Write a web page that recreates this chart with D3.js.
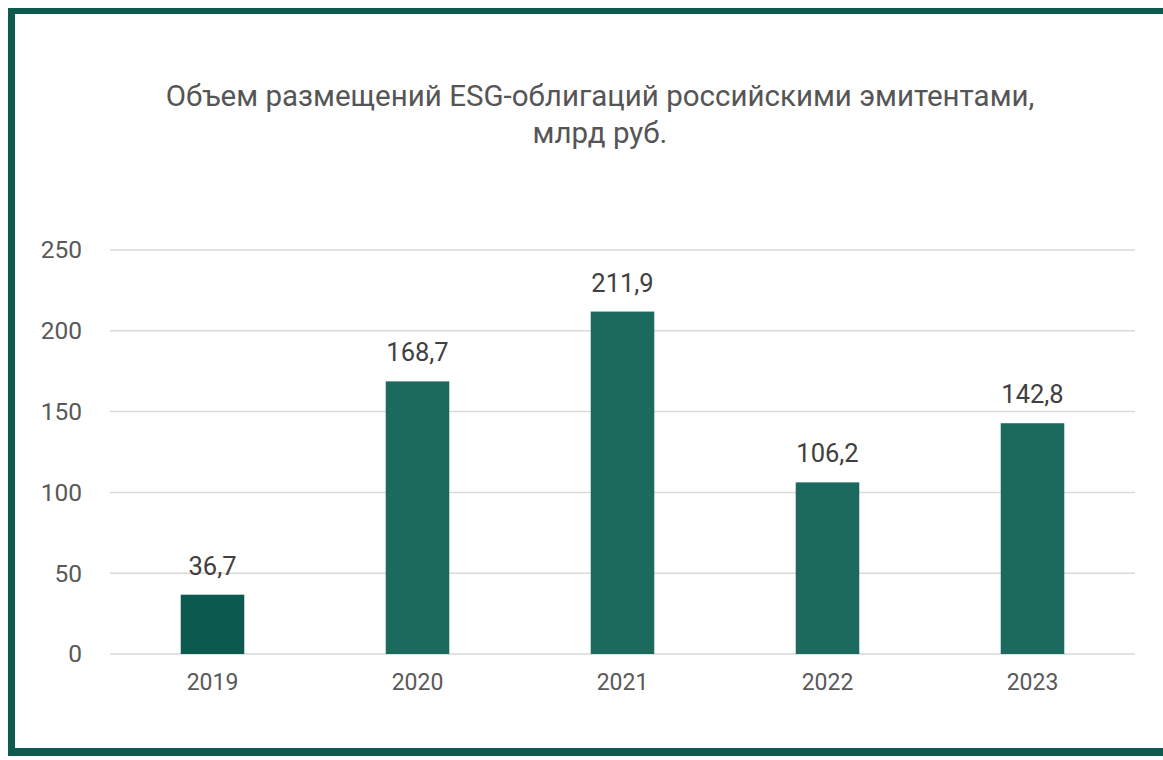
<!DOCTYPE html>
<html>
<head>
<meta charset="utf-8">
<script src="https://cdn.jsdelivr.net/npm/d3@7"></script>
<style>
body{margin:0;background:#fff;}
</style>
</head>
<body>
<div id="chart"></div>
<script>
const years=['2019','2020','2021','2022','2023']
const values=[36.7,168.7,211.9,106.2,142.8]
const barColors=['#0c5a4f','#1b6a5d','#1b6a5d','#1b6a5d','#1b6a5d']
const yTicks=[0,50,100,150,200,250]
const titleLines=['Объем размещений ESG-облигаций российскими эмитентами,','млрд руб.']

const W=1163,H=760
const margin=({top:250,right:28,bottom:106,left:110})
const width=W-margin.left-margin.right,
  height=H-margin.top-margin.bottom

let svg=d3.select('#chart').append('svg')
	.attr('width',W)
	.attr('height',H)
	.style('font-family','Roboto, sans-serif')

// frame
svg.append('rect').attr('x',0).attr('y',0).attr('width',W).attr('height',H).attr('fill','#fff')
svg.append('rect').attr('x',8).attr('y',8).attr('width',W-8).attr('height',6).attr('fill','#0f5a4f')
svg.append('rect').attr('x',8).attr('y',8).attr('width',7).attr('height',748).attr('fill','#0f5a4f')
svg.append('rect').attr('x',8).attr('y',748).attr('width',W-8).attr('height',8).attr('fill','#0f5a4f')

svg.selectAll('.title')
	.data(titleLines)
	.enter()
	.append('text')
	.attr('class','title')
	.attr('x',600)
	.attr('y',(d,i)=>106+i*37)
	.attr('text-anchor','middle')
	.attr('fill','#555')
	.style('font-size','29.5px')
	.text(d=>d)

let g=svg.append('g')
	.attr('transform','translate('+margin.left+','+margin.top+')')

let xScale=d3.scaleBand()
	.domain(years)
	.range([0,width])
	.paddingInner(0.69)
	.paddingOuter(0.345)

let yScale=d3.scaleLinear()
	.domain([0,250])
	.range([height,0])

// grid
g.selectAll('.grid')
	.data(yTicks)
	.enter()
	.append('line')
	.attr('x1',0)
	.attr('x2',width)
	.attr('y1',d=>yScale(d))
	.attr('y2',d=>yScale(d))
	.attr('stroke','#d9d9d9')
	.attr('stroke-width',1.5)

let yAxis=d3.axisLeft(yScale)
	.tickValues(yTicks)
	.tickSize(0)
	.tickPadding(28)
g.append('g')
	.attr('class','y-axis')
	.call(yAxis)
	.call(s=>s.select('.domain').remove())
	.selectAll('text')
	.attr('fill','#595959')
	.style('font-size','24.5px')
	.style('font-family','Roboto, sans-serif')

let xAxis=d3.axisBottom(xScale)
	.tickSize(0)
	.tickPadding(20)
g.append('g')
	.attr('class','x-axis')
	.attr('transform',`translate(0,${height})`)
	.call(xAxis)
	.call(s=>s.select('.domain').remove())
	.selectAll('text')
	.attr('fill','#595959')
	.style('font-size','23px')
	.style('font-family','Roboto, sans-serif')

g.selectAll('.bar')
	.data(values)
	.enter()
	.append('rect')
	.attr('class','bar')
	.attr('x',(d,i)=>xScale(years[i]))
	.attr('y',d=>yScale(d))
	.attr('width',xScale.bandwidth())
	.attr('height',d=>height-yScale(d))
	.attr('fill',(d,i)=>barColors[i])

g.selectAll('.label')
	.data(values)
	.enter()
	.append('text')
	.attr('class','label')
	.attr('x',(d,i)=>xScale(years[i])+xScale.bandwidth()/2)
	.attr('y',d=>yScale(d)-20)
	.attr('text-anchor','middle')
	.attr('fill','#404040')
	.style('font-size','25.5px')
	.text(d=>d.toFixed(1).replace('.',','))
</script>
</body>
</html>
